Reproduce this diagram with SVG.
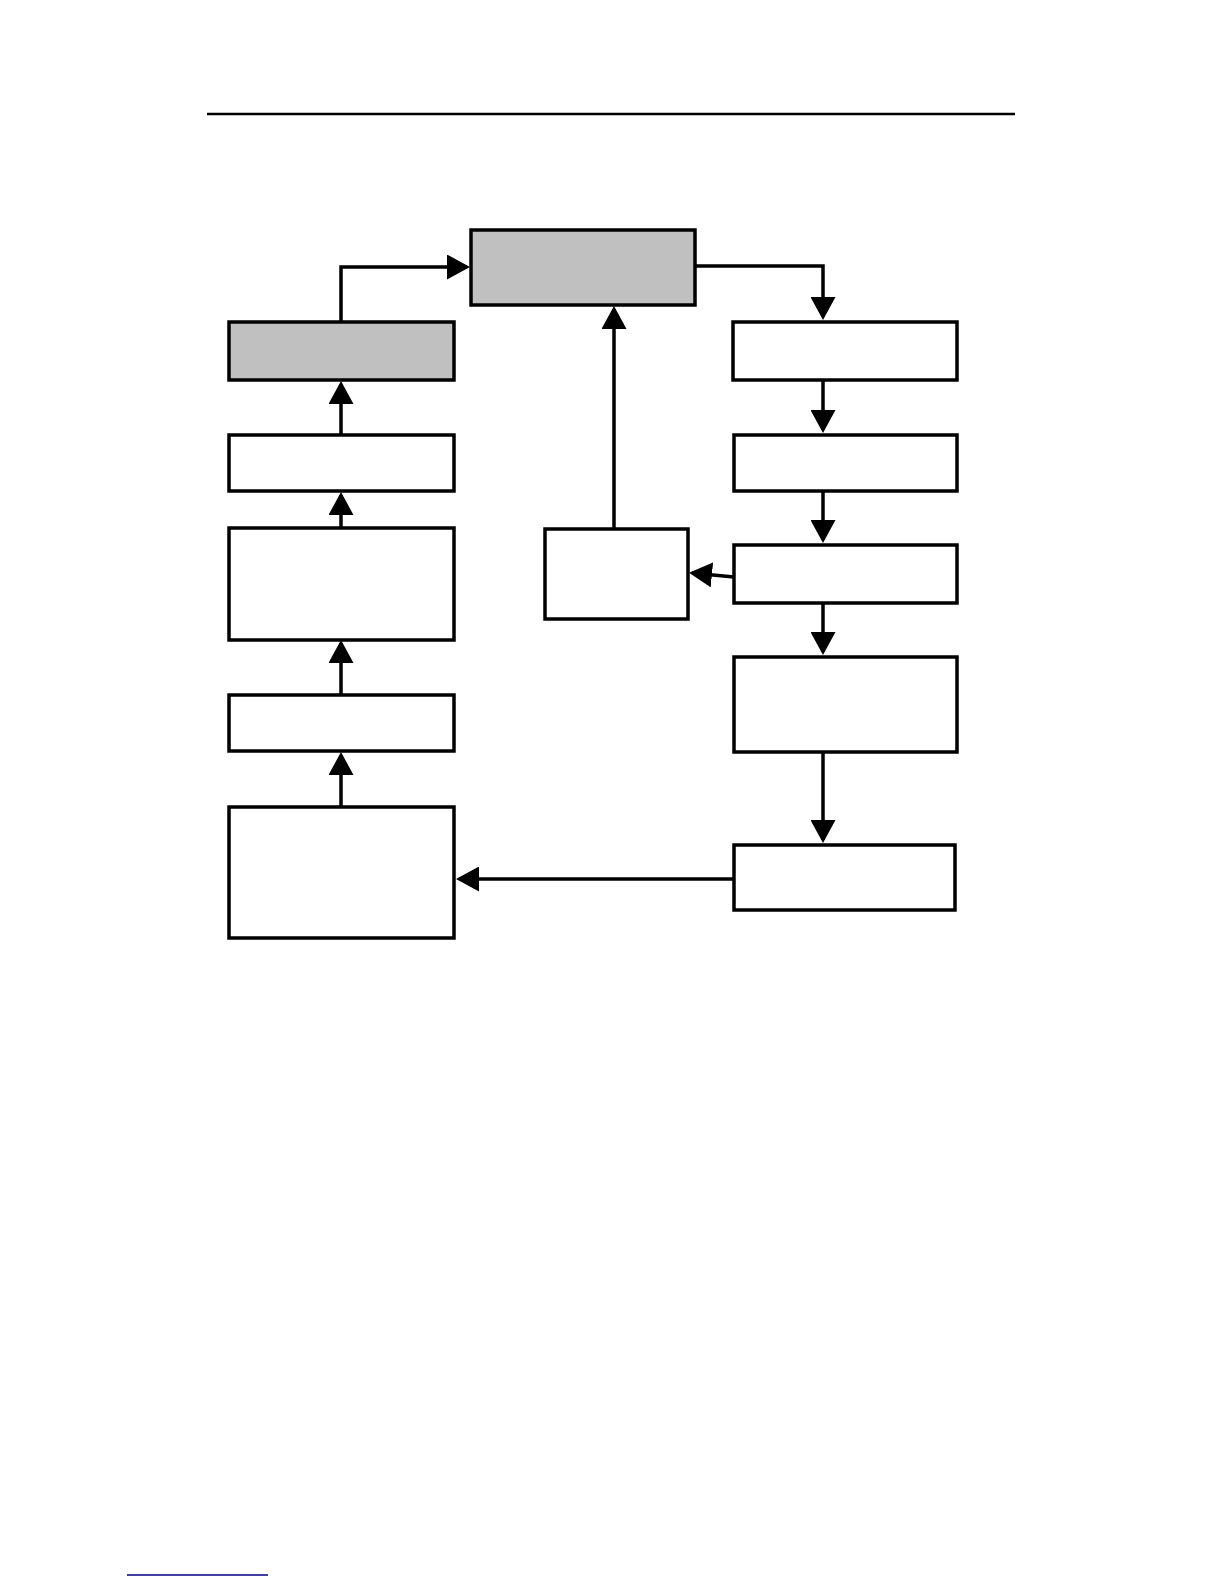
<svg xmlns="http://www.w3.org/2000/svg" width="1224" height="1584" viewBox="0 0 1224 1584">
<style>
.box{fill:#ffffff;stroke:#000000;stroke-width:3.5}
.gray{fill:#c0c0c0}
.conn{fill:none;stroke:#000000;stroke-width:3.5}
</style>
<defs>
<marker id="arr" markerUnits="userSpaceOnUse" markerWidth="23" markerHeight="25" viewBox="0 0 23 25" refX="20" refY="12.5" orient="auto">
<path d="M0,0 L23,12.5 L0,25 Z" fill="#000000"/>
</marker>
</defs>
<rect width="1224" height="1584" fill="#ffffff"/>
<line x1="207" y1="114" x2="1015" y2="114" stroke="#000000" stroke-width="2.5"/>
<line x1="127" y1="1575" x2="268" y2="1575" stroke="#000080" stroke-width="1.5"/>

<g id="top-gray"><rect class="box gray" x="471" y="230" width="224" height="75"/></g>
<g id="left-gray"><rect class="box gray" x="229" y="322" width="225" height="58"/></g>
<g id="left-2"><rect class="box" x="229" y="435" width="225" height="56"/></g>
<g id="left-3"><rect class="box" x="229" y="528" width="225" height="112"/></g>
<g id="left-4"><rect class="box" x="229" y="695" width="225" height="56"/></g>
<g id="left-5"><rect class="box" x="229" y="807" width="225" height="131"/></g>
<g id="middle"><rect class="box" x="545" y="529" width="143" height="90"/></g>
<g id="right-1"><rect class="box" x="733" y="322" width="224" height="58"/></g>
<g id="right-2"><rect class="box" x="734" y="435" width="223" height="56"/></g>
<g id="right-3"><rect class="box" x="734" y="545" width="223" height="58"/></g>
<g id="right-4"><rect class="box" x="734" y="657" width="223" height="95"/></g>
<g id="right-5"><rect class="box" x="734" y="845" width="221" height="65"/></g>

<g id="connectors">
<path class="conn" d="M341,322 L341,267 L467,267" marker-end="url(#arr)"/>
<path class="conn" d="M695,266 L823,266 L823,317" marker-end="url(#arr)"/>
<path class="conn" d="M614,529 L614,309" marker-end="url(#arr)"/>
<path class="conn" d="M341,435 L341,384" marker-end="url(#arr)"/>
<path class="conn" d="M341,528 L341,495" marker-end="url(#arr)"/>
<path class="conn" d="M341,695 L341,643" marker-end="url(#arr)"/>
<path class="conn" d="M341,807 L341,755" marker-end="url(#arr)"/>
<path class="conn" d="M823,380 L823,430" marker-end="url(#arr)"/>
<path class="conn" d="M823,491 L823,540" marker-end="url(#arr)"/>
<path class="conn" d="M823,603 L823,652" marker-end="url(#arr)"/>
<path class="conn" d="M823,752 L823,840" marker-end="url(#arr)"/>
<path class="conn" d="M734,577 L692,573" marker-end="url(#arr)"/>
<path class="conn" d="M734,879 L459,879" marker-end="url(#arr)"/>
</g>
</svg>
